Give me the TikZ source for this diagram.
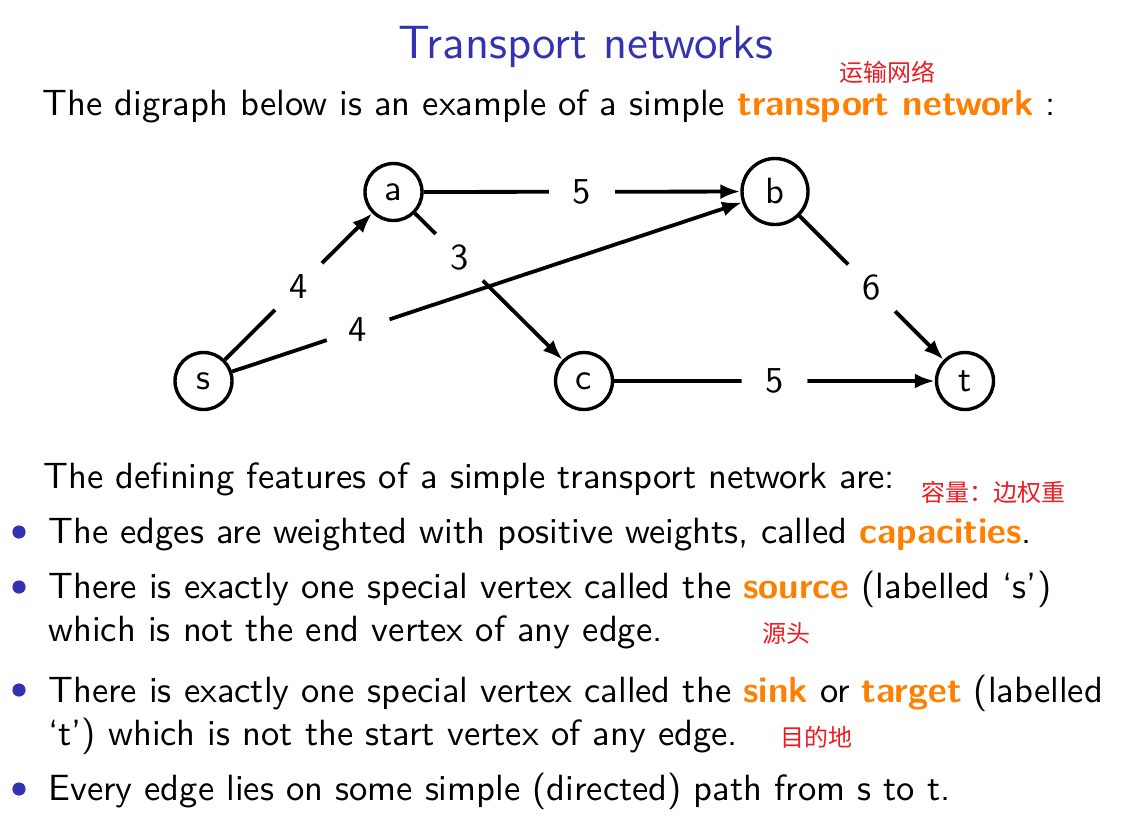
\documentclass[tikz,border=0pt]{standalone}
\usepackage{fontspec}
\usetikzlibrary{arrows.meta}
% the 10pt design of Latin Modern Sans, scaled up, at every size
\setsansfont[BoldFont=lmsans10-bold.otf]{lmsans10-regular.otf}
\newfontfamily\cjk{Noto Sans CJK SC}
\definecolor{structure}{rgb}{0.2,0.2,0.7}
\definecolor{alertorange}{RGB}{255,128,0}
\definecolor{notered}{RGB}{236,28,36}
\newcommand{\alertword}[1]{{\bfseries\color{alertorange}#1}}

\begin{document}
\begin{tikzpicture}[x=0.5pt,y=-0.5pt,
  font=\sffamily\fontsize{18.25pt}{22pt}\selectfont,
  vertex/.style={circle,draw,line width=1.7pt,minimum size=28.5pt,inner sep=0pt},
  weight/.style={circle,fill=white,minimum size=33pt,inner sep=0pt},
  flow/.style={line width=1.9pt,-{Latex[length=10pt,width=7.5pt]}},
  txt/.style={anchor=base west,inner sep=0pt},
  note/.style={text=notered,inner sep=0pt,font=\cjk\fontsize{12pt}{14pt}\selectfont},
  bullet/.style={circle,fill=structure,minimum size=6.6pt,inner sep=0pt}]

\useasboundingbox (0,0) rectangle (1128,832);

% title and introduction
\node[anchor=base,inner sep=0pt,text=structure,font=\sffamily\fontsize{23.4pt}{28pt}\selectfont]
  (title) at (586,58) {Transport networks};
\node[txt] (intro) at (42,115) {The digraph below is an example of a simple \alertword{transport network} :};
\node[note] (n1) at (887,72) {运输网络};

% the network
\node[vertex] (s) at (203.5,381) {s};
\node[vertex] (a) at (393.5,192) {a};
\node[vertex,minimum size=33pt] (b) at (775,191.5) {b};
\node[vertex] (c) at (584,381) {c};
\node[vertex] (t) at (965,381) {t};

\draw[flow] (s) -- node[weight,pos=0.5]{4} (a);
\draw[flow] (s) -- node[weight,pos=0.247]{4} (b);
\draw[flow] (a) -- node[weight,pos=0.30]{3} (c);
\draw[flow] (a) -- node[weight,pos=0.5]{5} (b);
\draw[flow] (b) -- node[weight,pos=0.5]{6} (t);
\draw[flow] (c) -- node[weight,pos=0.5]{5} (t);

% defining features
\node[txt] (feat) at (43,488) {The defining features of a simple transport network are:};
\node[note] (n2) at (993,492) {容量：边权重};

\node[bullet] (b1) at (19,532) {};
\node[txt] (i1) at (48,543) {The edges are weighted with positive weights, called \alertword{capacities}.};

\node[bullet] (b2) at (19,587) {};
\node[txt] (i2a) at (48,598) {There is exactly one special vertex called the \alertword{source} (labelled `s')};
\node[txt] (i2b) at (48,641) {which is not the end vertex of any edge.};
\node[note] (n3) at (786,633) {源头};

\node[bullet] (b3) at (19,690) {};
\node[txt] (i3a) at (48,702) {There is exactly one special vertex called the \alertword{sink} or \alertword{target} (labelled};
\node[txt] (i3b) at (48,745) {`t') which is not the start vertex of any edge.};
\node[note] (n4) at (816,737) {目的地};

\node[bullet] (b4) at (19,789) {};
\node[txt] (i4) at (48,800) {Every edge lies on some simple (directed) path from s to t.};
\end{tikzpicture}
\end{document}
